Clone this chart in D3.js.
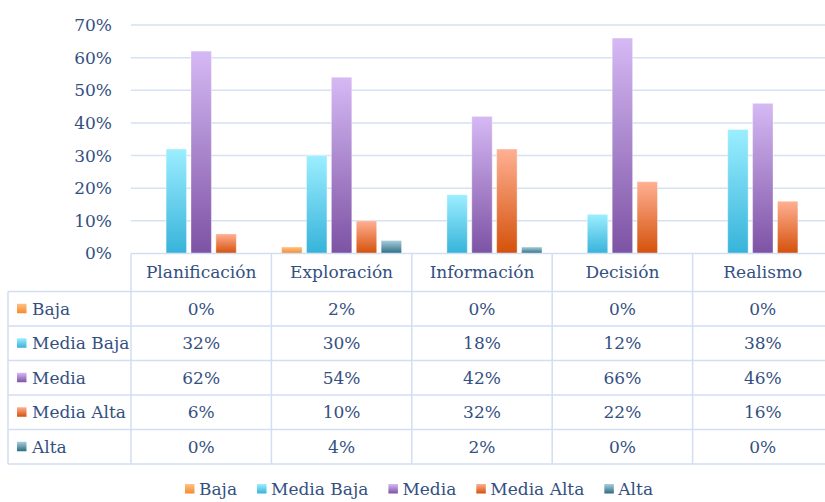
<!DOCTYPE html>
<html>
<head>
<meta charset="utf-8">
<script src="https://cdn.jsdelivr.net/npm/d3@7"></script>
<style>
  body { margin: 0; background: #fff; }
  svg text { font-family: "DejaVu Serif", serif; font-size: 17px; fill: #34507f; }
</style>
</head>
<body>
<svg id="chart" width="825" height="502"></svg>
<script>
// data (percent)
const categories = ["Planificación", "Exploración", "Información", "Decisión", "Realismo"];
const seriesNames = ["Baja", "Media Baja", "Media", "Media Alta", "Alta"];
const baja = [0, 2, 0, 0, 0];
const mediaBaja = [32, 30, 18, 12, 38];
const media = [62, 54, 42, 66, 46];
const mediaAlta = [6, 10, 32, 22, 16];
const alta = [0, 4, 2, 0, 0];
const yTicks = [0, 10, 20, 30, 40, 50, 60, 70];

const seriesValues = [baja, mediaBaja, media, mediaAlta, alta];
// gradient stops: top colour, bottom colour
const seriesColors = [
  ["#ffc285", "#f58a2c"],
  ["#9ceeff", "#36b3da"],
  ["#d5b9f4", "#7d52a4"],
  ["#ffb093", "#d4510a"],
  ["#aacfdb", "#2b6c82"]
];

const svg = d3.select("#chart");
const plotLeft = 131, colW = 140.4;
const plotRight = plotLeft + colW * categories.length;
const tableLeft = 8;
const headerBottom = 291.5, rowH = 34.5;

const x0 = d3.scaleBand().domain(categories).range([plotLeft, plotRight]);
const x1 = d3.scaleBand().domain(seriesNames).range([8, colW - 8]).paddingInner(0.18).paddingOuter(0.09);
const y = d3.scaleLinear().domain([0, 70]).range([253.5, 25]);

// gradients
const defs = svg.append("defs");
seriesColors.forEach((c, i) => {
  const g = defs.append("linearGradient")
    .attr("id", "grad" + i)
    .attr("x1", 0).attr("y1", 0).attr("x2", 0).attr("y2", 1);
  g.append("stop").attr("offset", "0%").attr("stop-color", c[0]);
  g.append("stop").attr("offset", "100%").attr("stop-color", c[1]);
});

// gridlines
svg.append("g")
  .selectAll("line")
  .data(yTicks.slice(1))
  .join("line")
  .attr("x1", plotLeft).attr("x2", plotRight)
  .attr("y1", d => y(d)).attr("y2", d => y(d))
  .attr("stroke", "#d6e1f3")
  .attr("stroke-width", 1.5);

// y axis labels
svg.append("g")
  .selectAll("text")
  .data(yTicks)
  .join("text")
  .attr("x", 112)
  .attr("y", d => y(d))
  .attr("dy", "0.35em")
  .attr("text-anchor", "end")
  .text(d => d + "%");

// bars
const groups = svg.append("g")
  .selectAll("g")
  .data(categories)
  .join("g")
  .attr("transform", d => `translate(${x0(d)},0)`);

groups.selectAll("rect")
  .data((cat, ci) => seriesNames.map((s, si) => ({ s, si, v: seriesValues[si][ci] })).filter(d => d.v > 0))
  .join("rect")
  .attr("x", d => x1(d.s))
  .attr("width", x1.bandwidth())
  .attr("y", d => y(d.v))
  .attr("height", d => y(0) - y(d.v))
  .attr("fill", d => `url(#grad${d.si})`)
  .attr("stroke", "#ffffff")
  .attr("stroke-opacity", 0.35)
  .attr("stroke-width", 1);

// data table lines
const tableColor = "#d2def2";
const table = svg.append("g");
const rowLines = d3.range(seriesNames.length + 1).map(i => headerBottom + i * rowH);
const tableBottom = rowLines[rowLines.length - 1];

table.append("line")
  .attr("x1", plotLeft).attr("x2", plotRight)
  .attr("y1", y(0)).attr("y2", y(0))
  .attr("stroke", tableColor).attr("stroke-width", 1.5);

table.selectAll(".hline")
  .data(rowLines)
  .join("line")
  .attr("class", "hline")
  .attr("x1", tableLeft).attr("x2", plotRight)
  .attr("y1", d => d).attr("y2", d => d)
  .attr("stroke", tableColor).attr("stroke-width", 1.5);

table.selectAll(".vline")
  .data(d3.range(categories.length + 1))
  .join("line")
  .attr("class", "vline")
  .attr("x1", i => plotLeft + i * colW).attr("x2", i => plotLeft + i * colW)
  .attr("y1", y(0)).attr("y2", tableBottom)
  .attr("stroke", tableColor).attr("stroke-width", 1.5);

table.append("line")
  .attr("x1", tableLeft).attr("x2", tableLeft)
  .attr("y1", headerBottom).attr("y2", tableBottom)
  .attr("stroke", tableColor).attr("stroke-width", 1.5);

// header row (category names)
table.selectAll(".cat")
  .data(categories)
  .join("text")
  .attr("class", "cat")
  .attr("x", d => x0(d) + colW / 2)
  .attr("y", (y(0) + headerBottom) / 2)
  .attr("dy", "0.35em")
  .attr("text-anchor", "middle")
  .text(d => d);

// series rows
seriesNames.forEach((name, si) => {
  const cy = headerBottom + si * rowH + rowH / 2;
  table.append("rect")
    .attr("x", 17).attr("y", cy - 5)
    .attr("width", 9.5).attr("height", 9.5)
    .attr("fill", `url(#grad${si})`);
  table.append("text")
    .attr("x", 32).attr("y", cy)
    .attr("dy", "0.35em")
    .text(name);
  table.selectAll(".v" + si)
    .data(categories)
    .join("text")
    .attr("x", d => x0(d) + colW / 2)
    .attr("y", cy)
    .attr("dy", "0.35em")
    .attr("text-anchor", "middle")
    .text((d, ci) => seriesValues[si][ci] + "%");
});

// legend at the bottom
const legend = svg.append("g");
let lx = 0;
seriesNames.forEach((name, si) => {
  const item = legend.append("g").attr("transform", `translate(${lx},0)`);
  item.append("rect")
    .attr("x", 0).attr("y", -5)
    .attr("width", 9.5).attr("height", 9.5)
    .attr("fill", `url(#grad${si})`);
  const t = item.append("text")
    .attr("x", 14).attr("y", 0)
    .attr("dy", "0.35em")
    .text(name);
  lx += 14 + t.node().getComputedTextLength() + 20;
});
const legendW = lx - 20;
legend.attr("transform", `translate(${419 - legendW / 2},489)`);
</script>
</body>
</html>
